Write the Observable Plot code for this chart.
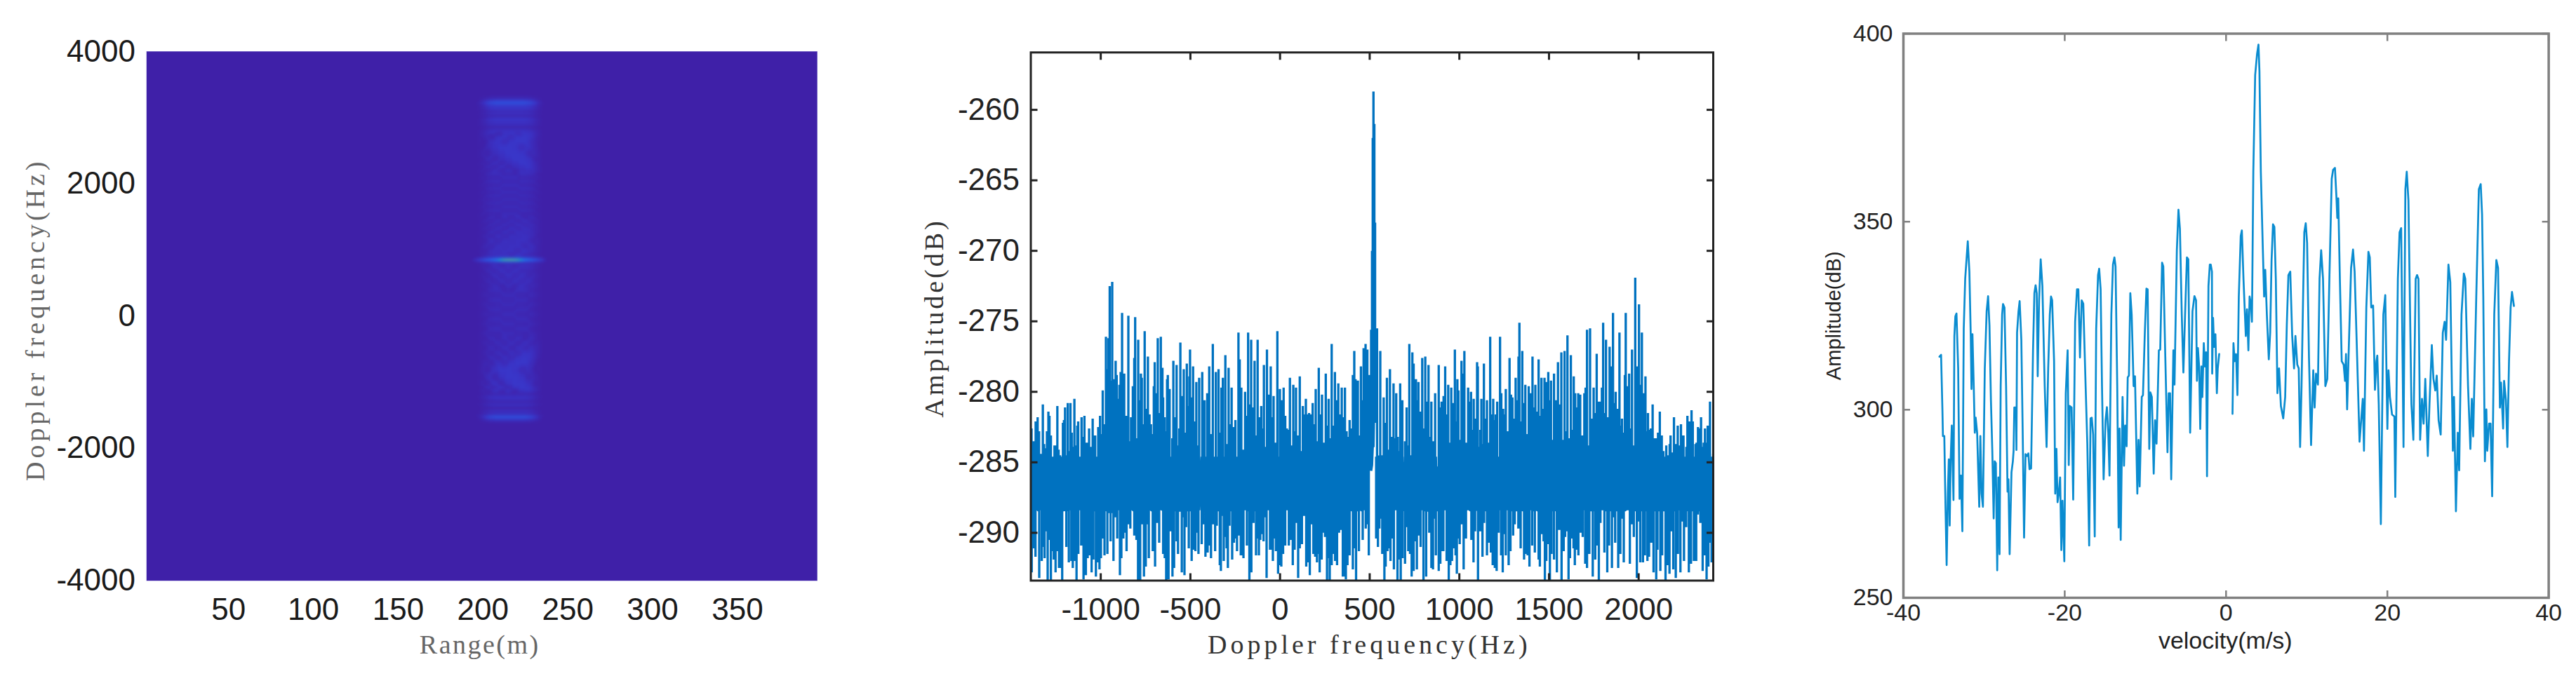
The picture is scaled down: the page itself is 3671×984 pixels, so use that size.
<!DOCTYPE html>
<html><head><meta charset="utf-8">
<script src="https://cdn.jsdelivr.net/npm/d3@7"></script>
<script src="https://cdn.jsdelivr.net/npm/@observablehq/plot@0.6"></script>
<style>
html,body{margin:0;padding:0;background:#fff;width:3671px;height:984px;overflow:hidden}
#c{position:relative;width:3671px;height:984px}
#c>div{position:absolute;top:0}
svg{display:block;overflow:hidden}
</style></head><body><div id="c"><div id="a" style="left:0"></div><div id="b" style="left:1260px"></div><div id="d" style="left:2540px"></div></div>
<script>
// ---- Chart 1: range-Doppler map ----
const mapTicksX=[50,100,150,200,250,300,350];
const mapTicksY=[-4000,-2000,0,2000,4000];
const mapRange=[194,196,198,200,202,204,206,208,210,212,214,216,218,220,222,224,226,228,230,232,234,236,238];
const mapProfile=[0,0,0.12,0.3,0.55,0.8,0.93,1,1,1,1,1,1,1,1,1,0.93,0.8,0.55,0.3,0.12,0,0];
const mapPeakProfile=[0.05,0.1,0.2,0.28,0.38,0.45,0.55,0.65,0.8,0.95,0.98,1,0.98,0.95,0.8,0.65,0.55,0.45,0.38,0.28,0.2,0.08,0];
const mapDoppler=[3356,3283,3228,3173,3136,3093,3063,3027,2990,2954,2899,2855,2807,2752,2716,2643,2551,2460,2369,2314,2259,2204,2149,2094,2040,1985,1930,1875,1820,1765,1711,1656,1601,1546,1491,1436,1382,1327,1272,1217,1144,1053,979,925,884,873,851,829,808,760,687,614,522,468,394,321,248,175,102,29,-44,-117,-191,-264,-337,-410,-483,-556,-629,-702,-812,-922,-1031,-1086,-1123,-1178,-1232,-1306,-1342,-1390,-1434,-1477,-1525,-1580,-1635];
const mapLevel=[0,.05,.3,.1,.13,.02,.12,0,.12,.09,.08,.02,.09,.1,.06,.11,.12,.12,.09,.07,.03,.08,.03,.07,.03,.07,.03,.06,.03,.06,.03,.06,.03,.06,.03,.07,.03,.08,.04,.08,.07,.08,.08,.05,.1,.5,1,.5,.05,.08,.05,.08,.04,.07,.03,.06,.03,.06,.03,.06,.03,.06,.03,.06,.03,.07,.03,.08,.05,.1,.12,.12,.09,.03,.1,.03,.1,.02,.1,0,.1,.04,.3,.05,0];
// direction of the fringes in a few Doppler bands: band upper edge and row lean
const mapLeanEdge=[2800,2600,2200,1500,900,800,400,-300,-800,-1150];
const mapLean=[-1,1,0.4,-1,0,1,0.5,-1,1,0];
const mapColorDomain=[0,.1,.3,.5,.65,.8,.95,1];
const mapColorRange=["#3f20a8","#3a33c6","#2c55e0","#1e78e8","#10a0d0","#30b090","#a89a78","#c09080"];

// ---- Chart 2: Doppler spectrum (vertical peaks) ----
const specTicksX=[-1000,-500,0,500,1000,1500,2000];
const specTicksY=[-290,-285,-280,-275,-270,-265,-260];
const coreTop=-284.6, coreBottom=-288.4;
const specPeaksLeft=[[-1394,-282.7],[-1386,-282.6],[-1374,-283.5],[-1363,-282.1],[-1352,-281.8],[-1344,-282.8],[-1336,-284.4],[-1323,-280.9],[-1316,-283.7],[-1308,-284],[-1300,-282.8],[-1292,-281.4],[-1286,-281.7],[-1278,-283.1],[-1273,-284.8],[-1266,-284.9],[-1258,-283.8],[-1253,-283.8],[-1242,-281],[-1235,-284.1],[-1227,-284.5],[-1219,-285],[-1211,-282.2],[-1205,-282],[-1199,-281.1],[-1193,-284.5],[-1184,-280.8],[-1178,-284.2],[-1169,-280.8],[-1162,-282.9],[-1155,-283.9],[-1147,-280.5],[-1139,-283.8],[-1131,-282.4],[-1126,-282.1],[-1116,-284.6],[-1107,-281.8],[-1099,-283.2],[-1091,-281.7],[-1083,-283.8],[-1078,-283.6],[-1073,-285.3],[-1065,-282.6],[-1054,-283.9],[-1045,-281.9],[-1037,-283.1],[-1031,-283.1],[-1023,-284.6],[-1014,-282.5],[-1004,-281.7],[-997,-283],[-989,-279.9],[-981,-282.3],[-971,-276.1],[-963,-278.4],[-957,-276.2],[-950,-272.5],[-943,-279.2],[-936,-272.2],[-929,-279.6],[-924,-279.1],[-917,-277.8],[-911,-278.8],[-904,-280.5],[-896,-279.5],[-889,-278.6],[-881,-274.4],[-869,-278.7],[-859,-281.7],[-853,-282.5],[-846,-274.6],[-838,-283.5],[-831,-281.8],[-821,-279.6],[-813,-277.6],[-808,-274.7],[-800,-283.3],[-791,-276.3],[-783,-280.6],[-776,-278.7],[-771,-279],[-765,-282.3],[-755,-275.7],[-746,-281.2],[-737,-277.5],[-728,-281.6],[-720,-282.3],[-712,-283],[-704,-279.6],[-699,-277.9],[-690,-280.1],[-682,-276.2],[-676,-281.5],[-665,-276.1],[-656,-278.3],[-652,-280.4],[-644,-281.8],[-637,-282.8],[-630,-279.1],[-626,-278.8],[-616,-279.8],[-601,-283.3],[-595,-277.8],[-587,-281.8],[-577,-278.1],[-569,-283.8],[-562,-282.6],[-556,-276.5],[-547,-280.3],[-543,-281.2],[-537,-278.4],[-530,-282.9],[-520,-278],[-513,-281],[-506,-278.9],[-502,-277],[-496,-280.4],[-485,-278.2],[-475,-282.1],[-467,-279.3],[-459,-283.8],[-451,-279]];
const specPeaksCentreLeft=[[-434,-278.6],[-426,-280.8],[-421,-280.6],[-406,-280.1],[-395,-278.2],[-386,-283],[-375,-276.6],[-368,-285],[-358,-278.6],[-352,-284.8],[-343,-278.4],[-334,-282.9],[-327,-279.7],[-319,-279],[-313,-284.8],[-305,-277.4],[-297,-283.7],[-287,-278.3],[-280,-282.3],[-270,-279.7],[-258,-282.5],[-249,-282],[-242,-284.6],[-232,-275.8],[-225,-277.7],[-216,-279.7],[-207,-284.1],[-195,-280],[-187,-281.7],[-178,-275.8],[-171,-280.9],[-161,-276.3],[-154,-281.1],[-142,-277.8],[-134,-283.1],[-125,-276.3],[-116,-281.8],[-105,-281],[-97,-282.6],[-90,-278.1],[-79,-283.9],[-73,-277],[-62,-280.2],[-52,-278.2],[-45,-281.8],[-36,-280.3],[-26,-283.6],[-15,-275.7],[-7,-284.7],[-1,-279.8],[7,-280.6],[10,-282.2],[20,-279.7],[29,-281.7],[38,-282.6],[47,-282.7],[55,-279],[66,-283.8],[74,-279.5],[81,-282.8],[89,-279.7],[101,-283.1],[110,-278.9],[118,-284.2],[127,-281],[136,-281.6],[144,-280.5],[153,-281.6],[162,-281.5],[170,-281.6],[182,-280.8],[192,-282.3],[199,-279.8],[207,-283.5],[216,-278.3],[226,-281.6],[234,-280.2],[246,-283.6],[255,-278.7],[264,-282.4],[271,-280.5],[280,-283.3],[288,-276.6],[297,-282.4],[306,-278.6],[314,-280.6],[325,-279.4],[336,-281.6],[344,-279.7],[352,-281.8],[362,-279.7],[371,-282.8],[379,-283.2],[388,-282],[397,-282.6],[406,-278.8],[414,-277.1],[421,-279.1],[427,-281.6],[434,-279.2],[443,-283.1],[451,-278.2],[459,-280.6],[466,-276.9],[477,-276.6],[487,-277],[495,-278.8]];
const specSpike=[[508,-275.6,-285.6],[513,-270,-285.2],[517,-262,-283.9],[521,-258.7,-283.9],[526,-261,-280.3],[530,-268,-282.2]];
const specPeaksCentreRight=[[541,-275.5],[559,-277.1],[569,-284.5],[578,-280.4],[587,-282.2],[596,-279],[604,-284.1],[613,-278.4],[622,-283.2],[633,-279.4],[640,-283.3],[648,-280.1],[656,-283.2],[660,-284.2],[670,-279.4],[682,-280.6],[691,-285],[697,-283.5],[706,-281.1],[714,-283.8],[721,-276.6],[731,-284.5],[738,-277.2],[745,-278],[750,-280.7],[758,-279.1],[766,-280.6],[772,-279.3],[783,-281.4],[793,-277.6],[802,-282.6],[810,-277.5],[821,-280.7],[828,-278.1],[839,-283.2],[844,-280.7],[853,-283.5],[865,-280.1],[875,-285.3],[885,-278.1],[891,-281.1],[895,-282.2],[901,-280.7],[912,-280.3],[921,-278.2],[930,-281.6],[938,-279.5],[946,-283.6],[955,-279.7],[962,-281.8],[967,-280.8],[975,-277],[981,-282.1],[989,-279.1],[995,-279.9],[1003,-283.4],[1012,-277.8],[1022,-278.7],[1028,-277.1],[1036,-283.6],[1041,-283.7],[1049,-279.7],[1058,-280.7],[1065,-280],[1070,-282.7],[1080,-280.5],[1088,-281.9],[1099,-277.9],[1103,-278.2],[1110,-283.9],[1117,-282.7],[1123,-280.5],[1129,-283.7],[1137,-278],[1146,-281.9],[1154,-280.6],[1160,-283.6],[1172,-276.1],[1181,-281.6],[1189,-280.5],[1197,-282],[1203,-281.6],[1211,-280.7],[1219,-284.6],[1227,-276.1],[1234,-280.1],[1244,-281.2],[1251,-281.6],[1259,-279.8],[1271,-282.8],[1280,-277.6],[1288,-280.2],[1296,-280.4],[1304,-281.9],[1314,-279],[1322,-280.6],[1330,-277.5],[1335,-275.1],[1340,-282.1],[1351,-277.1],[1359,-280.8],[1368,-279.5],[1377,-283],[1387,-279.6],[1398,-280.1],[1408,-277.5],[1416,-281.1],[1424,-279.5],[1432,-281.4],[1442,-277.7],[1452,-281.7],[1458,-279],[1466,-281.2]];
const specPeaksRight=[[1475,-279],[1483,-279.3],[1488,-280.1],[1496,-278.6],[1505,-280.6],[1511,-279.2],[1519,-283.4],[1528,-278.7],[1537,-280.6],[1544,-282.6],[1550,-277.9],[1560,-280.9],[1569,-277.2],[1578,-283.4],[1587,-277.1],[1596,-282.8],[1603,-276],[1612,-283.3],[1622,-277.4],[1630,-282.7],[1638,-278.9],[1646,-280.1],[1652,-281.1],[1663,-280.1],[1674,-280.2],[1685,-283.1],[1697,-280.1],[1704,-279.7],[1712,-275.6],[1720,-283.8],[1729,-275.5],[1740,-281.9],[1749,-279.7],[1757,-281.5],[1766,-277.3],[1772,-280.7],[1779,-282.1],[1785,-280.7],[1795,-279.7],[1802,-275.1],[1812,-281.5],[1818,-276.3],[1827,-281.8],[1838,-276.8],[1847,-278.2],[1857,-274.4],[1864,-280.8],[1872,-280],[1881,-281.2],[1893,-275.8],[1899,-282.4],[1907,-281.9],[1916,-282.9],[1923,-278.8],[1928,-274.4],[1937,-279.6],[1947,-278.7],[1954,-282.6],[1963,-277],[1971,-283.8],[1981,-271.9],[1990,-280.7],[1994,-278.2],[2002,-273.8],[2010,-279.5],[2018,-275.8],[2027,-280.1],[2038,-278.9],[2045,-282.8],[2052,-281.5],[2060,-282.7],[2068,-282.6],[2078,-280.9],[2086,-283.3],[2091,-284.5],[2099,-283.3],[2108,-282.9],[2118,-281.4],[2129,-283.1],[2138,-284.2],[2147,-285.4],[2154,-283.8],[2160,-284.5],[2167,-285.2],[2173,-283.7],[2178,-283.1],[2186,-284.3],[2190,-285.7],[2197,-281.8],[2207,-283.7],[2218,-282.4],[2227,-283.8],[2236,-282.3],[2244,-283.1],[2250,-283.1],[2259,-285.9],[2266,-283.9],[2272,-281.7],[2282,-282.1],[2295,-281.3],[2302,-282.1],[2317,-283.7],[2323,-283.6],[2331,-282.5],[2339,-282.6],[2348,-281.8],[2353,-283.9],[2363,-283.6],[2370,-282.6],[2378,-283.6],[2385,-282.4],[2390,-282.8],[2398,-280.7],[2407,-285.4],[2416,-284.4]];
const specDipsLeft=[[-1395,-290.8],[-1385,-292.8],[-1372,-291.1],[-1364,-291.7],[-1355,-288.4],[-1343,-293.2],[-1329,-292],[-1321,-291],[-1313,-291.8],[-1305,-289.9],[-1296,-293.4],[-1287,-290.5],[-1278,-293.4],[-1270,-291.3],[-1262,-291.9],[-1252,-292.8],[-1245,-291.3],[-1233,-292.5],[-1223,-292.5],[-1215,-293.4],[-1203,-287.9],[-1192,-291],[-1178,-292.1],[-1164,-292],[-1156,-292.5],[-1147,-292],[-1135,-293.4],[-1125,-291.5],[-1109,-290.9],[-1096,-293.3],[-1083,-293],[-1073,-291.8],[-1061,-291.6],[-1051,-292.8],[-1041,-291.9],[-1027,-293.1],[-1018,-292.1],[-1007,-292.6],[-999,-291.8],[-989,-290.4],[-979,-291.6],[-963,-291.5],[-953,-288.6],[-945,-290.6],[-937,-288.6],[-929,-292],[-921,-288.9],[-908,-290.4],[-900,-287.9],[-893,-293],[-885,-291.8],[-874,-290.4],[-864,-290],[-856,-291.3],[-846,-289.4],[-835,-289.7],[-822,-287],[-813,-290.2],[-801,-290.5],[-792,-293.4],[-780,-293.4],[-769,-289.4],[-759,-293.1],[-749,-292.4],[-738,-289.4],[-732,-291.8],[-722,-287.8],[-710,-291.3],[-697,-292.4],[-686,-289.3],[-674,-290.7],[-663,-288.2],[-652,-291.5],[-643,-291.8],[-635,-293.4],[-622,-293.3],[-609,-289.9],[-600,-293.1],[-591,-292.5],[-577,-290.6],[-569,-291.5],[-558,-288.5],[-548,-292.8],[-540,-288.9],[-533,-293],[-524,-289.6],[-509,-291.1],[-493,-292],[-483,-291.2],[-472,-291.3],[-462,-290],[-455,-291.5]];
const specDipsCentreLeft=[[-437,-290.8],[-429,-289.4],[-416,-291.7],[-404,-291.4],[-394,-290.9],[-385,-291.8],[-375,-289.4],[-362,-291.3],[-353,-289.5],[-336,-292.3],[-330,-292.7],[-321,-288.8],[-314,-292],[-306,-290.3],[-298,-291.1],[-291,-292.5],[-282,-289.5],[-267,-291.9],[-257,-290.7],[-249,-290.4],[-240,-291.3],[-229,-290.2],[-219,-291.6],[-211,-291.6],[-204,-291.8],[-195,-287.6],[-185,-290.9],[-171,-293.4],[-160,-292.8],[-148,-289.3],[-134,-291.6],[-126,-290.4],[-118,-291.6],[-110,-290.5],[-100,-290.1],[-92,-290.6],[-83,-288.9],[-75,-293.2],[-66,-288.1],[-56,-291.2],[-48,-291.2],[-40,-292],[-30,-290.4],[-23,-291.3],[-11,-292.9],[0,-292.3],[7,-292.4],[17,-291.5],[29,-290.9],[40,-288.2],[49,-290.9],[59,-290.5],[71,-292.3],[81,-291.2],[90,-289.3],[101,-293.2],[110,-291.1],[122,-290.8],[134,-288.8],[146,-292.4],[156,-292.1],[166,-293],[177,-289.4],[186,-291.5],[196,-291.7],[206,-292.1],[211,-291.5],[221,-292.8],[232,-291.9],[245,-290],[251,-290.3],[262,-293.4],[268,-291.8],[277,-293.4],[288,-292.3],[297,-291.5],[307,-292],[318,-292.3],[329,-290],[341,-289.8],[350,-293.1],[358,-293.1],[367,-293.3],[376,-292.3],[388,-291.6],[406,-292.6],[413,-291.1],[424,-293.4],[440,-291.3],[448,-288.4],[461,-290.5],[469,-287.9],[478,-289.7],[486,-289.4],[495,-291.6]];
const specDipsCentreRight=[[536,-290.4],[546,-291],[554,-289.7],[559,-289],[570,-291.5],[582,-293.4],[589,-292.4],[599,-291.3],[606,-291.1],[616,-292],[626,-290.4],[635,-292.6],[643,-288.2],[655,-293.4],[664,-291.9],[673,-293.4],[683,-291.8],[697,-292.2],[706,-289.6],[715,-291.3],[725,-291.5],[734,-293.1],[745,-292.7],[754,-290.6],[763,-292.6],[772,-290.2],[784,-291],[800,-293.4],[815,-293.1],[823,-288.5],[832,-290],[844,-292.5],[853,-292.6],[858,-289],[869,-291.6],[885,-292.7],[894,-292.2],[903,-291.3],[911,-291.3],[918,-287.9],[929,-292],[941,-293.4],[950,-292.3],[959,-292],[967,-291.1],[979,-291.6],[986,-292.9],[995,-290.4],[1002,-290.8],[1011,-289.4],[1024,-292.6],[1037,-290.4],[1048,-288.4],[1054,-288.4],[1067,-290.5],[1079,-292.1],[1088,-289.9],[1104,-293.4],[1117,-289.9],[1129,-291.7],[1138,-289.3],[1154,-291.6],[1163,-290.7],[1176,-291.4],[1186,-292.3],[1198,-292.5],[1208,-292.7],[1219,-290],[1233,-291.6],[1242,-292.8],[1252,-290.1],[1259,-291.6],[1275,-292.3],[1285,-291.3],[1300,-290.2],[1309,-289.4],[1329,-289.7],[1342,-291.1],[1361,-291.9],[1372,-291.5],[1381,-291.6],[1391,-292.4],[1406,-290.9],[1421,-291.4],[1428,-287.8],[1442,-291.9],[1449,-292.4],[1462,-290.1],[1470,-290.6]];
const specDipsRight=[[1477,-293.4],[1485,-292],[1492,-290.8],[1505,-293.4],[1514,-291.5],[1528,-291.9],[1544,-292.8],[1557,-289.8],[1570,-293.4],[1582,-291.3],[1590,-290.3],[1597,-289.9],[1609,-293.3],[1617,-291.8],[1626,-290.4],[1637,-291.1],[1644,-292.3],[1654,-291.2],[1664,-291.6],[1676,-290],[1688,-290.3],[1702,-292.2],[1712,-292.5],[1725,-291.5],[1744,-293.1],[1758,-291.9],[1767,-290.9],[1778,-293.4],[1787,-289.3],[1796,-288.4],[1809,-291.4],[1825,-292.8],[1835,-290.9],[1851,-292.5],[1859,-288.9],[1869,-290.7],[1886,-292.5],[1898,-291.5],[1911,-289],[1917,-292.1],[1932,-286.6],[1938,-288],[1951,-292.2],[1963,-289.4],[1973,-290.3],[1990,-293.2],[1998,-289.2],[2009,-292.1],[2024,-292.1],[2035,-291.6],[2049,-292],[2058,-291.7],[2070,-290.7],[2083,-292.8],[2098,-293.3],[2105,-291.2],[2121,-292.7],[2131,-291.6],[2150,-293.4],[2160,-292.3],[2172,-292.9],[2181,-289.9],[2193,-292.6],[2207,-293.2],[2219,-291.5],[2233,-292.8],[2245,-289.2],[2253,-292],[2265,-289.6],[2280,-292.8],[2292,-292.2],[2308,-292],[2321,-292],[2330,-288.7],[2344,-289.3],[2357,-292.7],[2369,-291.6],[2379,-293.3],[2389,-292.4],[2395,-290.7],[2407,-292.1],[2417,-293.4]];

// ---- Chart 3: velocity profile (two runs, the line stops around v = 0) ----
const velTicksX=[-40,-20,0,20,40];
const velTicksY=[250,300,350,400];
const velNegative=[[-35.53,314.1],[-35.33,314.6],[-35.16,299.6],[-35.1,293],[-34.93,293],[-34.78,273.9],[-34.64,258.7],[-34.49,277.7],[-34.37,286.8],[-34.26,269.2],[-34.14,286.8],[-34,295.8],[-33.79,276],[-33.68,319.6],[-33.56,324.8],[-33.42,325.6],[-33.21,311],[-33.04,276.3],[-32.87,282.5],[-32.69,267.7],[-32.52,321.5],[-32.34,334.8],[-32.02,344.8],[-31.82,336.7],[-31.65,319.6],[-31.56,305.5],[-31.44,320.1],[-31.27,305.3],[-31.15,293.9],[-31.04,297.9],[-30.86,293.9],[-30.6,274.2],[-30.46,293],[-30.31,277.7],[-30.14,274.2],[-29.91,311],[-29.68,326.2],[-29.5,330.2],[-29.33,322.4],[-29.15,302.5],[-28.98,289.1],[-28.81,271.1],[-28.69,286.3],[-28.54,285.8],[-28.37,257.3],[-28.23,282],[-28.08,261.6],[-27.94,306.3],[-27.76,325.3],[-27.65,328.1],[-27.47,327.2],[-27.27,306.3],[-27.09,278.2],[-26.98,281.5],[-26.83,261.6],[-26.6,283.4],[-26.43,286.3],[-26.34,289.1],[-26.25,300.6],[-26.05,300.6],[-25.99,289.3],[-25.91,320.5],[-25.73,326.2],[-25.59,328.9],[-25.38,318.6],[-25.21,293.9],[-25.04,266],[-24.86,288.2],[-24.66,287.7],[-24.51,288.4],[-24.37,284.2],[-24.17,284.4],[-23.93,315.8],[-23.76,331],[-23.61,333.1],[-23.47,331],[-23.35,308.9],[-23.18,329.1],[-22.98,340],[-22.77,332.9],[-22.48,306.3],[-22.25,290.1],[-22.05,311],[-21.85,325.3],[-21.7,330.1],[-21.56,329.1],[-21.32,312.9],[-21.18,277.7],[-21.03,289.6],[-20.89,275.4],[-20.74,277.7],[-20.57,282],[-20.42,262.7],[-20.28,275.8],[-20.05,259.7],[-19.87,304.4],[-19.64,315.8],[-19.5,285.3],[-19.38,301],[-19.15,300.6],[-18.95,276.1],[-18.71,323.4],[-18.48,332],[-18.31,332],[-18.11,313.9],[-17.9,329.1],[-17.7,328.2],[-17.41,306.3],[-17.2,291],[-16.97,263.9],[-16.8,297.7],[-16.65,297.9],[-16.48,293.4],[-16.28,266.3],[-16.1,321.5],[-15.87,335.8],[-15.73,337.5],[-15.55,332],[-15.38,306.3],[-15.18,281.5],[-14.94,297.2],[-14.77,300.7],[-14.6,293.9],[-14.45,282.5],[-14.22,325.3],[-14.02,338.6],[-13.84,340.5],[-13.7,338.1],[-13.49,306.3],[-13.32,268.7],[-13.2,295],[-13.06,265.4],[-12.83,303.4],[-12.65,285.1],[-12.51,295.8],[-12.33,290.3],[-12.19,308.6],[-12.04,309.1],[-11.87,331],[-11.7,325.3],[-11.46,306.3],[-11.29,308.9],[-11,277.7],[-10.85,292],[-10.71,279.6],[-10.45,303.4],[-10.3,303.9],[-10.07,320.5],[-9.87,332.2],[-9.72,332],[-9.52,289.6],[-9.38,304.6],[-9.2,303.4],[-8.97,283],[-8.8,297.2],[-8.62,291],[-8.33,315.8],[-8.16,316],[-7.93,339.1],[-7.78,338.1],[-7.55,315.8],[-7.26,288.7],[-7.11,304.4],[-6.94,304.4],[-6.8,281.5],[-6.53,315.8],[-6.39,306.7],[-6.1,342.4],[-5.9,353.2],[-5.72,348.1],[-5.49,325.3],[-5.29,309.9],[-5.08,325.3],[-4.85,340.5],[-4.68,340],[-4.45,293.9],[-4.16,326.2],[-3.92,330.2],[-3.72,329.1],[-3.61,307.7],[-3.49,316.4],[-3.34,311.5],[-3.2,294.9],[-3.05,311.5],[-2.94,303.4],[-2.76,317.7],[-2.62,311.5],[-2.47,315.3],[-2.36,282.3],[-2.18,332.9],[-2.01,338.6],[-1.9,338.6],[-1.75,336.7],[-1.72,309.6],[-1.61,324.4],[-1.49,316.7],[-1.32,320.1],[-1.14,304.4],[-1.03,311],[-0.85,314.8]];
const velPositive=[[0.8,298.9],[0.92,317.7],[1.06,312.9],[1.24,314.8],[1.41,303.9],[1.58,330.1],[1.82,346.2],[1.96,347.7],[2.16,334.8],[2.45,319.6],[2.6,326.7],[2.77,315.8],[2.92,330.1],[3.09,328.1],[3.21,323.4],[3.38,363.3],[3.61,389],[3.85,394.7],[4.02,397.1],[4.14,390],[4.31,363.3],[4.54,344.3],[4.72,330.1],[4.86,337.2],[5.06,325.3],[5.3,313.4],[5.47,320.5],[5.64,339.6],[5.82,349.3],[5.99,348.6],[6.17,334.8],[6.37,304.4],[6.57,311],[6.8,301],[7.09,297.7],[7.33,303.4],[7.53,322.4],[7.73,335.8],[7.96,336.7],[8.2,319.6],[8.43,311],[8.6,319.6],[8.83,312],[9.01,311],[9.18,290.1],[9.36,306.3],[9.56,331],[9.7,347.2],[9.88,349.6],[10.05,344.3],[10.28,313.9],[10.54,290.6],[10.81,310.5],[10.98,300.6],[11.15,309.6],[11.39,306.7],[11.59,334.8],[11.79,342.4],[12.02,334.8],[12.31,306.3],[12.55,308.2],[12.81,334.8],[13.1,361.4],[13.27,363.8],[13.5,364.3],[13.68,356.7],[13.79,351],[13.91,356.2],[14.11,334.8],[14.34,312.9],[14.58,312],[14.75,307.7],[14.87,314.8],[15.01,300.1],[15.21,315.8],[15.5,337.7],[15.74,342.6],[15.94,336.7],[16.2,317.7],[16.55,291.5],[16.95,302.9],[17.1,289.1],[17.39,327.2],[17.65,342],[17.82,340.5],[18,327.2],[18.23,327.7],[18.46,305.3],[18.64,312.9],[18.75,314.4],[18.93,301.5],[19.19,269.6],[19.5,325.3],[19.74,330.5],[20,294.9],[20.14,310.5],[20.32,303.4],[20.58,298.7],[20.87,298.2],[20.98,276.8],[21.3,334.8],[21.51,347.2],[21.71,348.3],[22,290.1],[22.23,358.6],[22.4,363.3],[22.61,355.7],[22.98,301.5],[23.22,292],[23.51,334.8],[23.68,335.8],[23.85,334.8],[24.06,292],[24.29,302.9],[24.49,296.3],[24.7,308.2],[25.01,287.7],[25.22,301.5],[25.51,317.2],[25.71,308.2],[25.94,305.1],[26.12,309.1],[26.35,297.2],[26.61,293.4],[26.87,320.5],[27.1,323.4],[27.28,318.6],[27.57,338.6],[27.8,333.9],[28.12,289.1],[28.26,303.4],[28.5,273],[28.73,293.9],[28.9,283.9],[29.19,325.3],[29.48,336.2],[29.66,334.8],[30,306.3],[30.29,289.6],[30.47,302.9],[30.64,292.9],[31.02,330.1],[31.34,358.6],[31.57,360],[31.74,351.9],[31.89,330.1],[32.09,286.3],[32.27,300.1],[32.38,289.1],[32.61,296.3],[32.79,296.3],[32.99,277],[33.25,325.3],[33.51,339.8],[33.72,337.7],[33.95,300.6],[34.09,307.2],[34.35,295],[34.47,307.7],[34.7,302.5],[34.88,290.1],[35.08,312.9],[35.28,327.2],[35.45,331.3],[35.69,327.6]];

const fmt=d=>String(d);
const SANS="Liberation Sans", SERIF="Liberation Serif";
const spaced=(plot,spacing)=>{
  plot.querySelectorAll("text").forEach(t=>{
    const s=spacing[t.textContent];
    if(s) t.style.letterSpacing=s+"px";
  });
  return plot;
};

// table for the raster: each row leans across the column so the fringes slant
const leanOf=hz=>{
  const k=mapLeanEdge.findIndex(e=>hz>e);
  if(k===0) return 0;
  return k<0?0:mapLean[k-1];
};
const isBright=j=>mapLevel[j]>=.3;
const mapCells=[];
mapDoppler.forEach((hz,j)=>{
  const peak=hz>820&&hz<880;
  mapRange.forEach((r,i)=>{
    const w=peak?mapPeakProfile[i]:mapProfile[i];
    const shift=Math.round(leanOf(hz)*(r-216)/4);
    let k=j-shift;
    if(k<0||k>=mapLevel.length||isBright(k)||isBright(j)) k=j;
    mapCells.push({r,hz,v:mapLevel[k]*w});
  });
});
document.getElementById("a").append(spaced(Plot.plot({
  width:1260,height:947,marginLeft:208.5,marginRight:96,marginTop:73,marginBottom:119.5,
  x:{domain:[1.7,397]},y:{domain:[-4000,4000]},
  color:{type:"linear",domain:mapColorDomain,range:mapColorRange,clamp:true},
  style:{background:"#fff",overflow:"hidden"},
  marks:[
    Plot.frame({fill:"#3f20a8",stroke:"#a9a2e0",strokeWidth:1}),
    Plot.raster(mapCells,{x:"r",y:"hz",fill:"v",interpolate:"barycentric",blur:1.5}),
    Plot.axisX({ticks:mapTicksX,tickSize:0,tickPadding:42,tickFormat:fmt,label:null,fontSize:44,fontFamily:SANS,color:"#1a1a1a",lineAnchor:"middle"}),
    Plot.axisY({ticks:mapTicksY,tickSize:0,tickPadding:16,tickFormat:fmt,label:null,fontSize:44,fontFamily:SANS,color:"#1a1a1a"}),
    Plot.text(["Range(m)"],{frameAnchor:"bottom",dx:-3,dy:104,fontSize:38,fontFamily:SERIF,fill:"#666"}),
    Plot.text(["Doppler frequency(Hz)"],{frameAnchor:"left",textAnchor:"middle",rotate:-90,dx:-158,dy:5,fontSize:38,fontFamily:SERIF,fill:"#666"})
  ]
}),{"Range(m)":2.5,"Doppler frequency(Hz)":5}));

// spectrum path: every reading is a vertical stroke out of the dense core
const ups=[...specPeaksLeft,...specPeaksCentreLeft,...specPeaksCentreRight,...specPeaksRight].map(([f,a])=>({f,a,b:coreBottom}));
const downs=[...specDipsLeft,...specDipsCentreLeft,...specDipsCentreRight,...specDipsRight].map(([f,a])=>({f,a,b:coreTop}));
const merged=[...ups,...downs].sort((p,q)=>p.f-q.f);
const specRows=[];
const stroke=(f,a,b)=>{specRows.push({f,a:b},{f,a},{f,a:b});};
merged.filter(p=>p.f<505).forEach(p=>stroke(p.f,p.a,p.b));
specRows.push({f:505,a:null});
specSpike.forEach(([f,t,b])=>stroke(f,t,b));
specRows.push({f:533,a:null});
merged.filter(p=>p.f>533).forEach(p=>stroke(p.f,p.a,p.b));

const BLK="#222";
document.getElementById("b").append(spaced(Plot.plot({
  width:1280,height:947,marginLeft:208.5,marginRight:99,marginTop:74.3,marginBottom:119.5,
  x:{domain:[-1390,2416]},y:{domain:[-293.39,-255.93]},
  style:{background:"#fff",overflow:"hidden"},
  marks:[
    Plot.line(specRows,{x:"f",y:"a",stroke:"#0072c0",strokeWidth:3.3,strokeLinecap:"butt",strokeLinejoin:"miter",clip:true}),
    Plot.frame({stroke:BLK,strokeWidth:3}),
    Plot.axisX({ticks:specTicksX,anchor:"bottom",tickSize:-10,tickPadding:52,strokeWidth:3,stroke:BLK,tickFormat:fmt,label:null,fontSize:44,fontFamily:SANS,color:BLK,lineAnchor:"middle"}),
    Plot.axisX({ticks:specTicksX,anchor:"top",tickSize:-10,strokeWidth:3,stroke:BLK,tickFormat:()=>"",label:null}),
    Plot.axisY({ticks:specTicksY,anchor:"left",tickSize:-10,tickPadding:26,strokeWidth:3,stroke:BLK,tickFormat:fmt,label:null,fontSize:44,fontFamily:SANS,color:BLK}),
    Plot.axisY({ticks:specTicksY,anchor:"right",tickSize:-10,strokeWidth:3,stroke:BLK,tickFormat:()=>"",label:null}),
    Plot.text(["Doppler frequency(Hz)"],{frameAnchor:"bottom",dx:-4,dy:104,fontSize:38,fontFamily:SERIF,fill:"#333"}),
    Plot.text(["Amplitude(dB)"],{frameAnchor:"left",textAnchor:"middle",rotate:-90,dx:-137,dy:2,fontSize:38,fontFamily:SERIF,fill:"#333"})
  ]
}),{"Doppler frequency(Hz)":5,"Amplitude(dB)":4}));

const velRows=[...velNegative.map(([v,a])=>({v,a,run:0})),...velPositive.map(([v,a])=>({v,a,run:1}))];
const GRY="#808080";
document.getElementById("d").append(Plot.plot({
  width:1131,height:936,marginLeft:172,marginRight:39.4,marginTop:47.5,marginBottom:84,
  x:{domain:[-40,40]},y:{domain:[250,400]},
  style:{background:"#fff",overflow:"hidden"},
  marks:[
    Plot.line(velRows,{x:"v",y:"a",z:"run",stroke:"#0a8cd0",strokeWidth:2.7,strokeLinejoin:"round"}),
    Plot.frame({stroke:GRY,strokeWidth:3.5}),
    Plot.axisX({ticks:velTicksX,anchor:"bottom",tickSize:-10,tickPadding:32,strokeWidth:2.5,stroke:GRY,tickFormat:fmt,label:null,fontSize:34,fontFamily:SANS,color:"#222",lineAnchor:"middle"}),
    Plot.axisX({ticks:velTicksX,anchor:"top",tickSize:-10,strokeWidth:2.5,stroke:GRY,tickFormat:()=>"",label:null}),
    Plot.axisY({ticks:velTicksY,anchor:"left",tickSize:-10,tickPadding:25,strokeWidth:2.5,stroke:GRY,tickFormat:fmt,label:null,fontSize:34,fontFamily:SANS,color:"#222"}),
    Plot.axisY({ticks:velTicksY,anchor:"right",tickSize:-10,strokeWidth:2.5,stroke:GRY,tickFormat:()=>"",label:null}),
    Plot.text(["velocity(m/s)"],{frameAnchor:"bottom",dx:-1,dy:72,fontSize:34,fontFamily:SANS,fill:"#222"}),
    Plot.text(["Amplitude(dB)"],{frameAnchor:"left",textAnchor:"middle",rotate:-90,dx:-99,dy:0,fontSize:29,fontFamily:SANS,fill:"#222"})
  ]
}));
</script></body></html>
